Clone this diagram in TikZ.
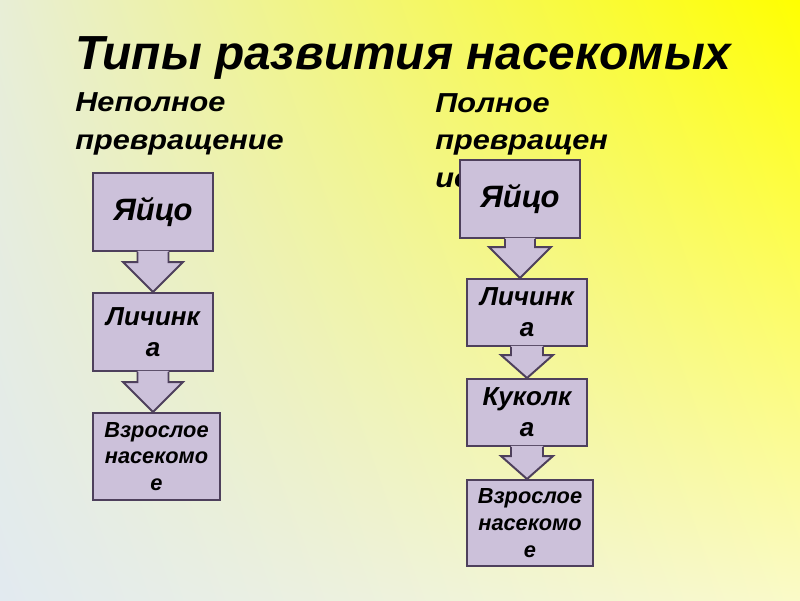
\documentclass[tikz,border=0pt]{standalone}
\usepackage{fontspec}
\setmainfont{Liberation Sans}
\newfontfamily\headfont[FakeStretch=1.12]{Liberation Sans}
\usetikzlibrary{calc, shadings}
\usepackage{xcolor}

\definecolor{stagefill}{RGB}{204,193,218}
\definecolor{stageline}{RGB}{78,64,92}
\definecolor{bgtl}{RGB}{232,238,214}
\definecolor{bgtr}{RGB}{255,255,0}
\definecolor{bgbl}{RGB}{226,234,240}
\definecolor{bgbr}{RGB}{250,250,200}

% one pixel of the slide
\newcommand{\pxu}{0.025cm}
% block arrow: from, to, shaft half width, head half width, head length
\newcommand{\stagearrow}[5]{%
  \fill[stagefill] let \p1=(#1.south), \p2=(#2.north) in
    (\x1-#3*\pxu,\y1+0.8pt) -- (\x1-#3*\pxu,\y2+#5*\pxu) -- (\x1-#4*\pxu,\y2+#5*\pxu)
    -- (\x1,\y2) -- (\x1+#4*\pxu,\y2+#5*\pxu) -- (\x1+#3*\pxu,\y2+#5*\pxu)
    -- (\x1+#3*\pxu,\y1+0.8pt) -- cycle;
  \draw[stageline, line width=1.4pt, miter limit=20] let \p1=(#1.south), \p2=(#2.north) in
    (\x1-#3*\pxu,\y1) -- (\x1-#3*\pxu,\y2+#5*\pxu) -- (\x1-#4*\pxu,\y2+#5*\pxu)
    -- (\x1,\y2) -- (\x1+#4*\pxu,\y2+#5*\pxu) -- (\x1+#3*\pxu,\y2+#5*\pxu)
    -- (\x1+#3*\pxu,\y1);
}

\begin{document}
\begin{tikzpicture}[x=0.025cm, y=-0.025cm,
  stage/.style={draw=stageline, fill=stagefill, line width=1.4pt, inner sep=0pt,
                align=center, font=\bfseries\itshape},
  heading/.style={anchor=base west, inner sep=0pt, align=left,
                  font=\headfont\bfseries\itshape\fontsize{19.5}{26.5}\selectfont}]

  % ----- background -----
  \useasboundingbox (0,0) rectangle (800,600);
  \shade[upper left=bgtl, upper right=bgtr, lower left=bgbl, lower right=bgbr]
    (0,600) rectangle (800,0);

  % ----- title and headings -----
  \node[anchor=base west, inner sep=0pt, font=\bfseries\itshape\fontsize{34}{40}\selectfont]
    at (75,69) (title) {Типы развития насекомых};
  \node[heading] at (75,149) (partial) {Неполное\\превращение};
  \node[heading] at (435,187) (complete) {Полное\\превращен\\ие};

  % ----- incomplete metamorphosis -----
  \node[stage, minimum width=120*\pxu, minimum height=78*\pxu, font=\bfseries\itshape\fontsize{22}{26}\selectfont]
    at (153,212) (egga) {Яйцо};
  \node[stage, minimum width=120*\pxu, minimum height=78*\pxu, font=\bfseries\itshape\fontsize{18.5}{22}\selectfont]
    at (153,332) (larvaa) {Личинк\\а};
  \node[stage, minimum width=127*\pxu, minimum height=87*\pxu, font=\bfseries\itshape\fontsize{15.5}{19}\selectfont]
    at (156.5,456.5) (adulta) {Взрослое\\насекомо\\е};

  \stagearrow{egga}{larvaa}{15.5}{30}{30}
  \stagearrow{larvaa}{adulta}{15.5}{30}{30}

  % ----- complete metamorphosis -----
  \node[stage, minimum width=120*\pxu, minimum height=78*\pxu, font=\bfseries\itshape\fontsize{22}{26}\selectfont]
    at (520,199) (eggb) {Яйцо};
  \node[stage, minimum width=120*\pxu, minimum height=67*\pxu, font=\bfseries\itshape\fontsize{18.5}{22}\selectfont]
    at (527,312.5) (larvab) {Личинк\\а};
  \node[stage, minimum width=120*\pxu, minimum height=67*\pxu, font=\bfseries\itshape\fontsize{18.5}{22}\selectfont]
    at (527,412.5) (pupab) {Куколк\\а};
  \node[stage, minimum width=126*\pxu, minimum height=86*\pxu, font=\bfseries\itshape\fontsize{15.5}{19}\selectfont]
    at (530,523) (adultb) {Взрослое\\насекомо\\е};

  \stagearrow{eggb}{larvab}{15}{31}{31}
  \stagearrow{larvab}{pupab}{16}{26}{23}
  \stagearrow{pupab}{adultb}{16}{26}{23}

\end{tikzpicture}
\end{document}
